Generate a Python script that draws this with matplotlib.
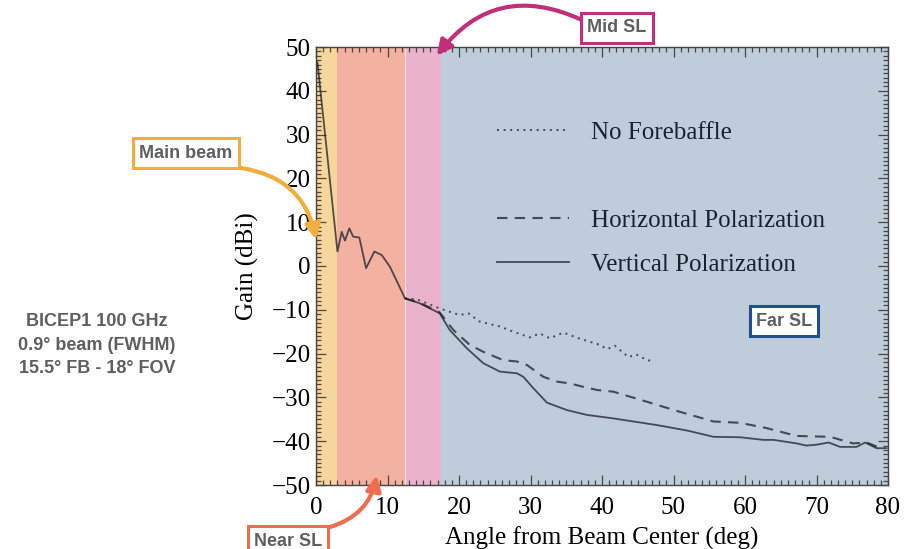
import matplotlib
matplotlib.use("Agg")
import matplotlib.pyplot as plt
from matplotlib.lines import Line2D
from matplotlib.ticker import MultipleLocator

# Beam gain profiles (deg, dBi)
vert_x = [0.2, 3.0, 3.6, 4.05, 4.66, 5.2, 6.06, 7.0, 8.16, 9.2, 10.35, 12.45, 14.5, 17.3,
          18.7, 21.1, 23.4, 25.7, 28.1, 29.0, 30.4, 32.3, 35.1, 37.9, 41.6, 44.4, 47.6,
          49.0, 52.0, 55.6, 59.3, 62.6, 64.0, 67.2, 68.6, 70.0, 71.7, 73.3, 75.6, 76.8,
          78.4, 79.8]
vert_y = [46.5, 3.3, 7.8, 5.8, 8.6, 6.7, 6.5, -0.5, 3.3, 2.5, -0.2, -7.4, -8.5, -10.8,
          -14.6, -18.8, -22.2, -24.1, -24.5, -25.3, -27.9, -31.2, -32.9, -34.0, -34.8,
          -35.5, -36.3, -36.7, -37.6, -39.0, -39.1, -39.7, -39.7, -40.5, -41.0, -40.8,
          -40.3, -41.3, -41.3, -40.3, -41.6, -41.6]

horiz_x = [12.45, 14.5, 17.3, 19.2, 21.5, 23.4, 26.2, 28.1, 29.5, 31.8, 33.7, 35.5, 37.4,
           39.3, 41.6, 46.3, 50.9, 55.6, 59.3, 63.0, 67.2, 71.9, 75.1, 77.0, 78.4, 79.5]
horiz_y = [-7.4, -8.4, -10.6, -14.6, -18.0, -19.6, -21.5, -21.8, -22.6, -25.3, -26.4,
           -26.8, -27.6, -28.3, -28.7, -31.0, -33.3, -35.5, -35.8, -37.0, -38.8, -39.0,
           -40.5, -40.3, -41.2, -41.5]

nofb_x = [12.45, 14.1, 17.3, 20.1, 21.3, 22.9, 25.7, 27.6, 29.9, 31.3, 32.7, 34.6, 36.9,
          39.7, 40.7, 41.8, 43.7, 44.8, 46.3, 47.2]
nofb_y = [-7.4, -7.6, -9.7, -11.2, -10.8, -12.7, -13.8, -15.0, -16.3, -15.4, -16.5,
          -15.2, -16.6, -18.0, -19.0, -18.2, -20.8, -20.2, -21.5, -21.7]

# sidelobe regions (deg)
region_edges = [0, 3.0, 12.5, 17.5, 80]
region_colors = ["#F6D69D", "#F3B1A2", "#E9B4CB", "#BFCCD9"]

serif = ["Liberation Serif", "DejaVu Serif"]
sans = ["Liberation Sans", "DejaVu Sans"]
fs = 18

fig = plt.figure(figsize=(9.09, 5.49), dpi=100)
ax = fig.add_axes([316 / 909, 1 - 485 / 549, 572 / 909, 438 / 549])

for i, c in enumerate(region_colors):
    ax.axvspan(region_edges[i], region_edges[i + 1], color=c, lw=0, zorder=0)
ax.axvline(region_edges[2], color="white", lw=0.8, alpha=0.6, zorder=0.5)

line_c = (0.10, 0.12, 0.17, 0.75)
ax.plot(nofb_x, nofb_y, color=line_c, lw=1.4, ls=(0, (1, 2.4)), zorder=2)
ax.plot(horiz_x, horiz_y, color=line_c, lw=1.5, ls=(0, (5, 3.5)), zorder=2)
ax.plot(vert_x, vert_y, color=line_c, lw=1.3, zorder=3)

ax.set_xlim(0, 80)
ax.set_ylim(-50, 50)
ax.xaxis.set_major_locator(MultipleLocator(10))
ax.xaxis.set_minor_locator(MultipleLocator(1))
ax.yaxis.set_major_locator(MultipleLocator(10))
ax.yaxis.set_minor_locator(MultipleLocator(1))
ax.tick_params(which="both", direction="in", top=True, right=True,
               color=(0.15, 0.15, 0.15, 0.8), width=0.9)
ax.tick_params(which="major", length=7)
ax.tick_params(which="minor", length=3.5)
ax.tick_params(labelsize=fs)
ax.tick_params(axis="x", pad=9)
ax.tick_params(axis="y", pad=4)
for lab in ax.get_xticklabels() + ax.get_yticklabels():
    lab.set_family(serif)
for s in ax.spines.values():
    s.set_color("#444444")
    s.set_linewidth(1.0)

ax.set_xlabel("Angle from Beam Center (deg)", family=serif, fontsize=fs, labelpad=5)
ax.set_ylabel("Gain (dBi)", family=serif, fontsize=fs, labelpad=9)

handles = [Line2D([], [], color=line_c, lw=1.4, ls=(0, (1, 2.4))),
           Line2D([], [], color="none"),
           Line2D([], [], color=line_c, lw=1.5, ls=(0, (5, 3.5))),
           Line2D([], [], color=line_c, lw=1.3)]
labels = ["No Forebaffle", " ", "Horizontal Polarization", "Vertical Polarization"]
ax.legend(handles, labels, loc="upper left", bbox_to_anchor=(0.316, 0.83),
          frameon=False, borderpad=0, borderaxespad=0, handlelength=2.9,
          handletextpad=0.88, labelspacing=0.86,
          prop=dict(family=serif, size=fs), labelcolor="#1a2230")

# region callouts
def callout(text, cx, cy, edge):
    fig.text(cx / 909, 1 - cy / 549, text, ha="center", va="center",
             family=sans, fontweight="bold", fontsize=13, color="#5f5f5f",
             bbox=dict(boxstyle="square,pad=0.35", fc="white", ec=edge, lw=2.2))

def arrow(start, tip, edge, rad):
    ax.annotate("", xy=tip, xycoords="data",
                xytext=(start[0] / 909, 1 - start[1] / 549), textcoords="figure fraction",
                annotation_clip=False,
                arrowprops=dict(arrowstyle="-|>,head_length=0.9,head_width=0.45",
                                color=edge, lw=3, shrinkA=0, shrinkB=0,
                                connectionstyle="arc3,rad=%s" % rad))

callout("Main beam", 186, 153, "#F0AE3C")
arrow((241, 168), (0.0, 6.0), "#F0AE3C", -0.35)

callout("Mid SL", 617, 28, "#C0307A")
arrow((582, 20), (16.9, 48.0), "#C0307A", 0.4)

callout("Near SL", 288, 541, "#EE6C50")
arrow((330, 527), (8.5, -47.8), "#EE6C50", 0.3)

callout("Far SL", 784, 321, "#1F4F8E")

fig.text(97 / 909, 1 - 345 / 549, "BICEP1 100 GHz\n0.9° beam (FWHM)\n15.5° FB - 18° FOV",
         ha="center", va="center", family=sans, fontweight="bold", fontsize=13,
         color="#5f5f5f", linespacing=1.5)

fig.savefig("out.png", dpi=100)
